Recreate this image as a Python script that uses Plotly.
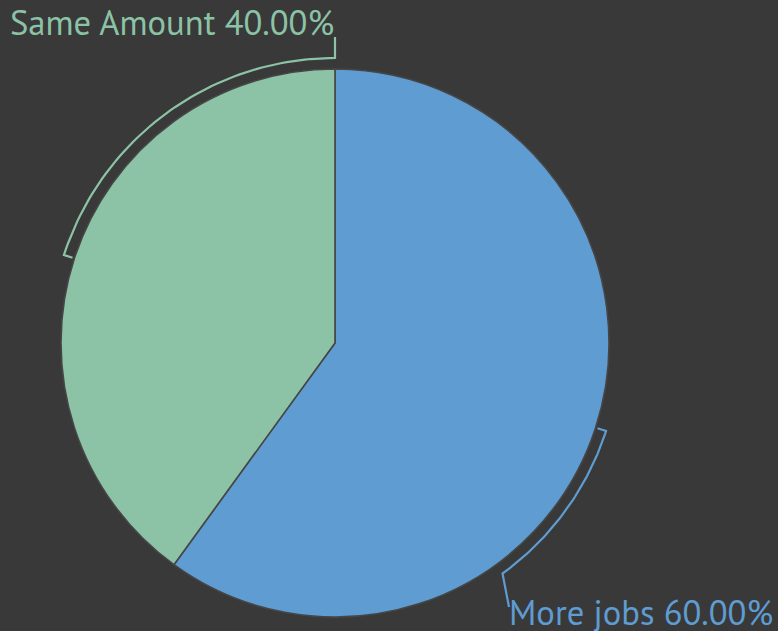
import numpy as np
import plotly.graph_objects as go

# Survey answers (percent of respondents)
labels = ["More jobs", "Same Amount"]
values = [60, 40]
colors = ["#5F9CD1", "#8CC3A6"]

BG = "#393939"
W, H = 778, 631
CX, CY, R = 335, 343, 274          # pie centre / radius in pixels
ARC_R = R + 11                     # radius of the label brackets
TICK_IN = R + 2
FONT = "PT Sans, Lato, Open Sans, sans-serif"
FSIZE = 34.6

fig = go.Figure()

fig.add_trace(go.Pie(
    labels=labels,
    values=values,
    sort=False,
    direction="clockwise",
    rotation=0,
    marker=dict(colors=colors, line=dict(color="#464646", width=1.6)),
    textinfo="none",
    hoverinfo="label+percent",
    domain=dict(x=[(CX - R) / W, (CX + R) / W],
                y=[(H - CY - R) / H, (H - CY + R) / H]),
    showlegend=False,
))

total = float(sum(values))
fracs = [v / total for v in values]
starts = np.cumsum([0.0] + fracs[:-1]) * 360.0
ends = starts + np.array(fracs) * 360.0
mids = (starts + ends) / 2.0


def pt(angle_deg, r):
    """Pixel position of a clockwise angle measured from 12 o'clock."""
    a = np.radians(angle_deg)
    return CX + r * np.sin(a), CY - r * np.cos(a)


def arc(a0, a1, r, n=60):
    ang = np.linspace(a0, a1, n)
    return [pt(a, r) for a in ang]


# bracket for the first slice ("More jobs"): inward tick at the mid angle,
# arc running clockwise, then a leader to the label
s0, e0, m0 = starts[0], ends[0], mids[0]
b_end = m0 + (e0 - m0) / 3.0
pts_blue = [pt(m0, TICK_IN)] + arc(m0, b_end, ARC_R)
lx_blue, ly_blue = 511, 607
pts_blue.append((lx_blue - 2, ly_blue))

# bracket for the second slice ("Same Amount"): vertical leader at 12 o'clock,
# arc running counter-clockwise to the slice's mid angle, inward tick
s1, e1, m1 = starts[1], ends[1], mids[1]
lx_green, ly_green = CX, 37
pts_green = [(lx_green, ly_green)] + arc(360.0, m1, ARC_R) + [pt(m1, TICK_IN)]

for pts, col in [(pts_blue, colors[0]), (pts_green, colors[1])]:
    xs, ys = zip(*pts)
    fig.add_trace(go.Scatter(
        x=list(xs), y=list(ys), mode="lines",
        line=dict(color=col, width=2.2),
        hoverinfo="skip", showlegend=False,
    ))

pct = [f"{f * 100:.2f}%" for f in fracs]

fig.add_annotation(
    x=lx_green + 1, y=ly_green + 10, xref="x", yref="y",
    text=f"{labels[1]} {pct[1]}", showarrow=False,
    xanchor="right", yanchor="bottom",
    font=dict(family=FONT, size=FSIZE, color=colors[1]),
)
fig.add_annotation(
    x=lx_blue - 4, y=ly_blue - 19, xref="x", yref="y",
    text=f"{labels[0]} {pct[0]}", showarrow=False,
    xanchor="left", yanchor="top",
    font=dict(family=FONT, size=FSIZE, color=colors[0]),
)

fig.update_layout(
    width=W, height=H,
    margin=dict(l=0, r=0, t=0, b=0),
    paper_bgcolor=BG, plot_bgcolor=BG,
    xaxis=dict(range=[0, W], visible=False, fixedrange=True),
    yaxis=dict(range=[H, 0], visible=False, fixedrange=True),
    showlegend=False,
)

fig.write_html("out.html")
